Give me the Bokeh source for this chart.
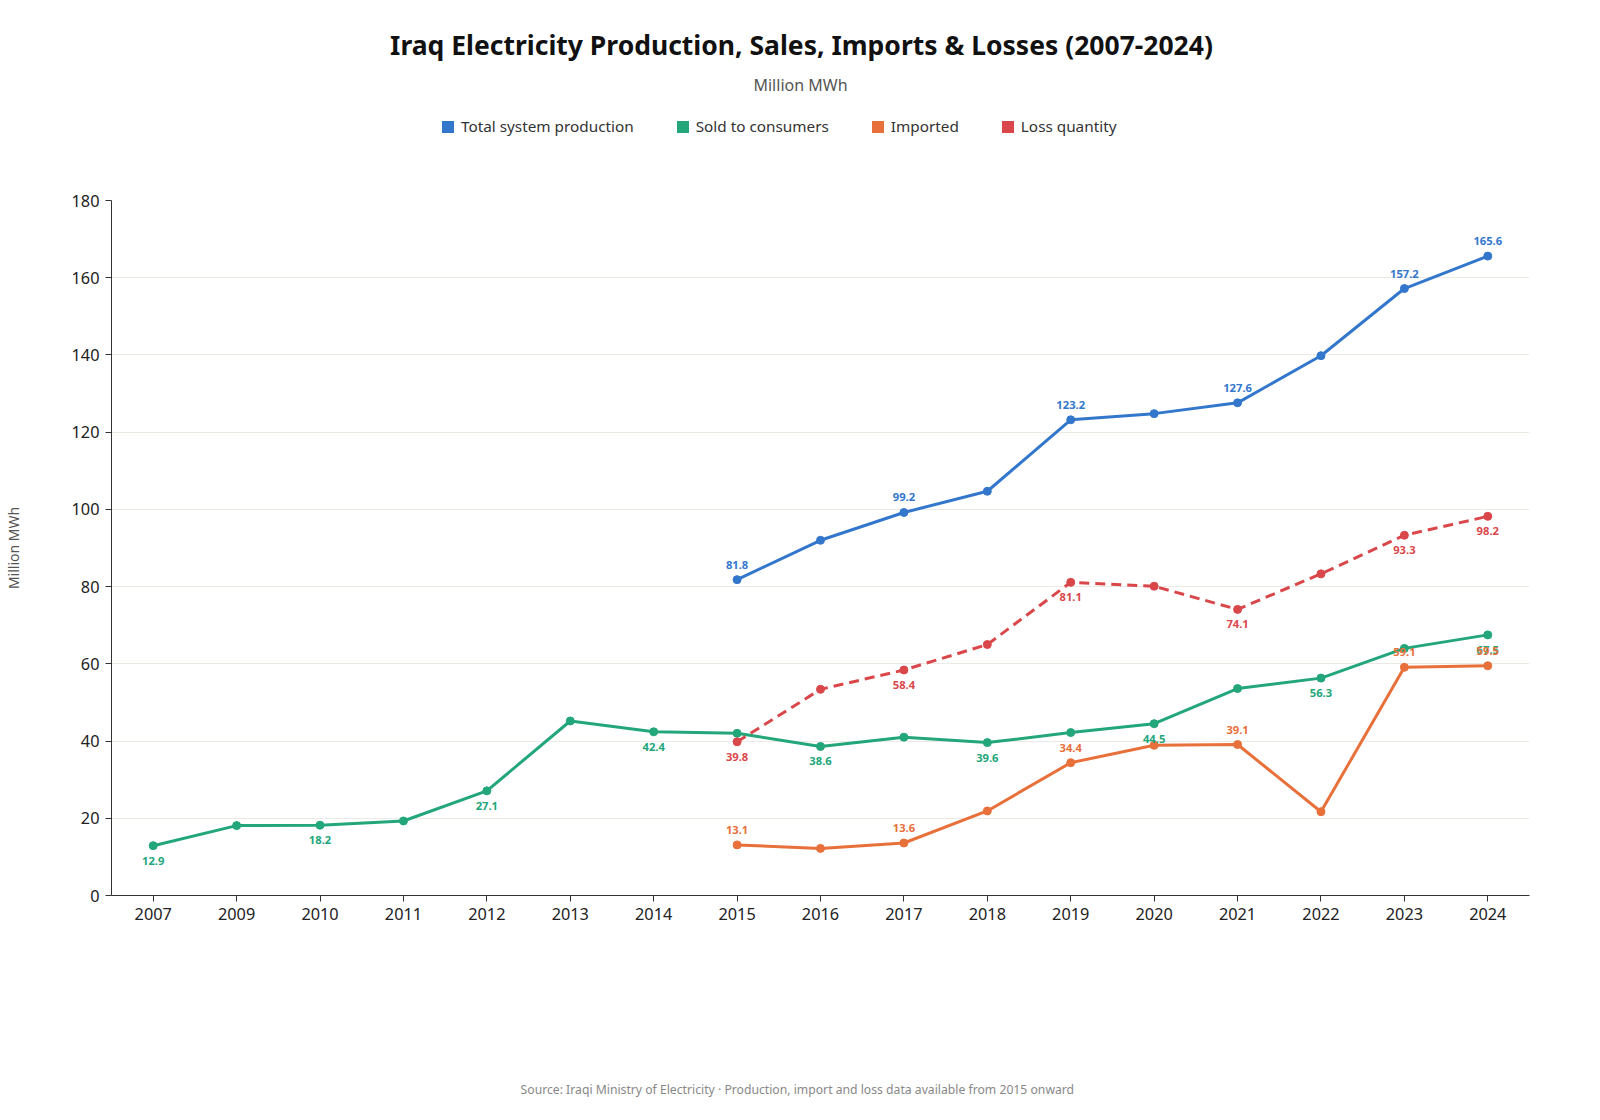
from bokeh.plotting import figure
from bokeh.layouts import column
from bokeh.models import (ColumnDataSource, FactorRange, Range1d, Legend, LegendItem,
                          Label, LabelSet)
from bokeh.core.properties import value
from bokeh.embed import file_html
from bokeh.resources import INLINE

# ---------------- data ----------------
years = ["2007", "2009", "2010", "2011", "2012", "2013", "2014", "2015", "2016",
         "2017", "2018", "2019", "2020", "2021", "2022", "2023", "2024"]
sold = [12.9, 18.1, 18.2, 19.3, 27.1, 45.2, 42.4, 42.0, 38.6, 41.0, 39.6,
        42.2, 44.5, 53.6, 56.3, 64.0, 67.5]
late_years = ["2015", "2016", "2017", "2018", "2019", "2020", "2021", "2022", "2023", "2024"]
production = [81.8, 92.0, 99.2, 104.7, 123.2, 124.8, 127.6, 139.8, 157.2, 165.6]
imported = [13.1, 12.2, 13.6, 21.9, 34.4, 38.9, 39.1, 21.7, 59.1, 59.5]
losses = [39.8, 53.4, 58.4, 65.0, 81.1, 80.1, 74.1, 83.3, 93.3, 98.2]

y_ticks = [0, 20, 40, 60, 80, 100, 120, 140, 160, 180]

C_BLUE = "#3377cc"
C_GREEN = "#22a67a"
C_ORANGE = "#e8703a"
C_RED = "#d9474b"
FONT = "Noto Sans"
W = 1580
BL, BR = 110, 51  # left / right borders shared by all three stacked figures


def bare(height):
    f = figure(width=W, height=height, x_range=FactorRange(*years, range_padding=0),
               y_range=Range1d(0, 180), output_backend="svg", toolbar_location=None,
               x_axis_type=None, y_axis_type=None, min_border=0,
               min_border_left=BL, min_border_right=BR,
               background_fill_color="white", border_fill_color="white")
    f.outline_line_color = None
    f.xgrid.visible = False
    f.ygrid.visible = False
    return f


# ---------------- header: title, subtitle, legend ----------------
head = bare(190)
head.add_layout(Label(x=690, y=146, x_units="screen", y_units="screen",
                      text="Iraq Electricity Production, Sales, Imports & Losses (2007-2024)",
                      text_align="center", text_baseline="middle", text_font=FONT,
                      text_font_size="26.5px", text_font_style="bold", text_color="#111111"))
head.add_layout(Label(x=689, y=106, x_units="screen", y_units="screen",
                      text="Million MWh", text_align="center", text_baseline="middle",
                      text_font=FONT, text_font_size="16px", text_color="#555555"))

# ---------------- main chart ----------------
p = figure(width=W, height=745, x_range=FactorRange(*years, range_padding=0),
           y_range=Range1d(0, 180), output_backend="svg", toolbar_location=None,
           min_border_left=BL, min_border_right=BR, min_border_top=10,
           min_border_bottom=40, background_fill_color="white",
           border_fill_color="white")
p.outline_line_color = None
p.xgrid.grid_line_color = None
p.ygrid.grid_line_color = "#ebebe3"
p.ygrid.grid_line_width = 1
p.yaxis.ticker = y_ticks
for ax in (p.xaxis, p.yaxis):
    ax.axis_line_color = "#333333"
    ax.major_tick_line_color = "#333333"
    ax.major_tick_out = 6
    ax.major_tick_in = 0
    ax.minor_tick_line_color = None
    ax.major_label_text_font = FONT
    ax.major_label_text_font_size = "16.3px"
    ax.major_label_text_color = "#222222"
p.xaxis.major_label_standoff = 6
p.yaxis.major_label_standoff = 6
p.yaxis.axis_label = "Million MWh"
p.yaxis.axis_label_text_font = FONT
p.yaxis.axis_label_text_font_size = "14px"
p.yaxis.axis_label_text_font_style = "normal"
p.yaxis.axis_label_text_color = "#555555"
p.yaxis.axis_label_standoff = 46


def series(xs, ys, color, dash="solid", above=True, name=""):
    src = ColumnDataSource(dict(x=xs, y=ys))
    p.line("x", "y", source=src, line_color=color, line_width=3, line_dash=dash)
    p.scatter("x", "y", source=src, size=8, fill_color=color, line_color=color)
    n = len(ys)
    idx = [i for i in range(n) if i % 2 == 0 or i == n - 1]
    lsrc = ColumnDataSource(dict(x=[xs[i] for i in idx], y=[ys[i] for i in idx],
                                 t=["%.1f" % ys[i] for i in idx]))
    p.add_layout(LabelSet(x="x", y="y", text="t", source=lsrc,
                          y_offset=11 if above else -11,
                          text_align="center",
                          text_baseline="bottom" if above else "top",
                          text_font=value(FONT), text_font_size="11.2px",
                          text_font_style="bold", text_color=color))
    # zero-size rects in the header: invisible, they give the legend square swatches
    proxy = head.rect("x", "y", source=src, width=0, height=0, fill_color=color,
                      line_color=None)
    return LegendItem(label=name, renderers=[proxy])


items = [
    series(late_years, production, C_BLUE, above=True, name="Total system production"),
    series(years, sold, C_GREEN, above=False, name="Sold to consumers"),
    series(late_years, imported, C_ORANGE, above=True, name="Imported"),
    series(late_years, losses, C_RED, dash="10 6", above=False, name="Loss quantity"),
]

legend = Legend(items=items, orientation="horizontal", location=(329, 54),
                label_text_font=FONT, label_text_font_size="15.3px",
                label_text_color="#333333", glyph_width=15, glyph_height=15,
                spacing=41, label_standoff=6, border_line_color=None,
                background_fill_alpha=0, margin=0, padding=0)
head.add_layout(legend, "center")

# ---------------- footer: source note ----------------
foot = bare(167)
foot.add_layout(Label(x=689, y=13, x_units="screen", y_units="screen",
                      text="Source: Iraqi Ministry of Electricity  \u00b7  Production, import and loss data available from 2015 onward",
                      text_align="center", text_baseline="middle", text_font=FONT,
                      text_font_size="12.2px", text_color="#888888"))

page = column(head, p, foot)
open("out.html", "w").write(file_html(page, INLINE))
